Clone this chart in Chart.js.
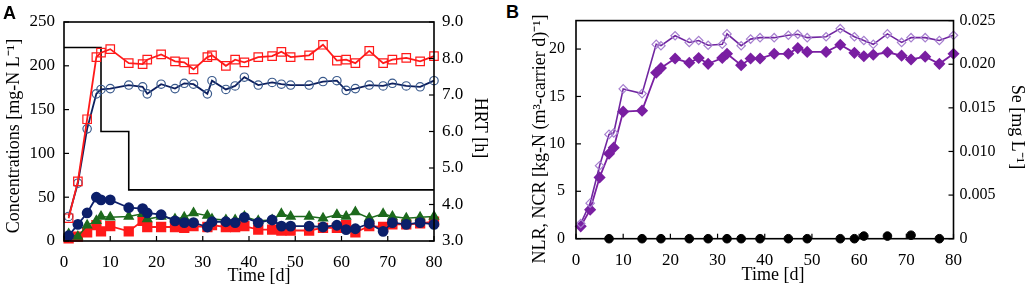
<!DOCTYPE html>
<html>
<head>
<meta charset="utf-8">
<script src="https://cdn.jsdelivr.net/npm/chart.js"></script>
<style>
  body { margin: 0; background: #fff; width: 1031px; height: 292px; position: relative; overflow: hidden; }
  canvas { position: absolute; top: 0; }
  #chartA { left: 0; }
  #chartB { left: 520px; }
  .tag { position: absolute; font: bold 18px "Liberation Sans", Arial, sans-serif; line-height: 1; }
</style>
</head>
<body>
<canvas id="chartA" width="500" height="292"></canvas>
<canvas id="chartB" width="511" height="292"></canvas>
<div class="tag" style="left:3px;top:4px">A</div>
<div class="tag" style="left:506px;top:3px">B</div>
<script>
// sampling days (both panels)
const days = [1, 3, 5, 7, 8, 10, 14, 17, 18, 21, 24, 26, 28, 31, 32, 35, 37, 39, 42, 45, 47, 49, 53, 56, 59, 61, 63, 66, 69, 71, 74, 77, 80];

// panel A, concentrations [mg-N/L]
const redOpen = [26, 68, 139, 210, 215, 219, 203, 202, 207, 213, 205, 204, 196, 210, 212, 200, 207, 204, 210, 211, 216, 210, 212, 224, 206, 207, 203, 217, 203, 207, 209, 205, 211];
const navyOpen = [28, 66, 128, 168, 173, 174, 178, 176, 168, 179, 174, 180, 179, 168, 183, 173, 177, 187, 178, 181, 179, 178, 178, 182, 183, 172, 174, 178, 177, 180, 177, 176, 183];
const navyFilled = [6, 19, 32, 50, 47, 47, 38, 37, 32, 30, 23, 21, 21, 16, 22, 22, 21, 27, 21, 24, 17, 17, 17, 16, 18, 13, 14, 20, 11, 21, 19, 21, 19];
const greenTri = [8, 5, 18, 23, 28, 27, 28, 31, 25, 28, 25, 27, 32, 29, 25, 24, 24, 28, 23, 24, 31, 28, 28, 26, 30, 28, 33, 26, 31, 28, 26, 27, 28];
const redFilled = [3, 5, 10, 18, 11, 17, 11, 23, 16, 16, 16, 15, 17, 16, 18, 16, 16, 17, 13, 13, 12, 12, 12, 15, 15, 18, 10, 17, 16, 19, 19, 20, 22];

// HRT steps [h] (corner points of the step line)
const hrtDays = [0, 8, 8, 14, 14, 80];
const hrtValues = [8.3, 8.3, 6.0, 6.0, 4.4, 4.4];

// panel B
const nlr = [1.6, 3.75, 7.7, 11.0, 11.15, 15.8, 15.3, 20.5, 20.35, 21.4, 20.7, 20.9, 20.4, 20.5, 21.6, 20.35, 21.05, 21.2, 21.2, 21.46, 21.56, 21.2, 21.3, 22.15, 21.3, 20.9, 20.5, 21.6, 20.7, 21.2, 21.2, 20.9, 21.46];
const ncr = [1.3, 3.06, 6.46, 8.96, 9.6, 13.4, 13.5, 17.5, 18.0, 19.0, 18.55, 19.06, 18.44, 19.06, 19.5, 18.3, 19.0, 19.0, 19.5, 19.5, 20.1, 19.7, 19.7, 20.45, 19.6, 19.24, 19.4, 19.66, 19.3, 18.9, 19.2, 18.44, 19.5];
const seDays = [7, 14, 18, 24, 28, 32, 35, 39, 45, 49, 56, 59, 61, 66, 71, 77];
const seValues = [0, 0, 0, 0, 0, 0, 0, 0, 0, 0, 0, 0, 0.0003, 0.0003, 0.0004, 0];

const pts = (xs, ys) => xs.map((x, i) => ({ x: x, y: ys[i] }));

Chart.defaults.font.family = '"Liberation Serif", "Times New Roman", serif';
Chart.defaults.color = '#000';

// box around plot + inward tick marks
const frame = {
  id: 'frame',
  afterDraw(chart) {
    const { ctx, chartArea: a } = chart;
    ctx.save();
    ctx.strokeStyle = '#000';
    ctx.lineWidth = 1.6;
    ctx.strokeRect(a.left, a.top, a.right - a.left, a.bottom - a.top);
    ctx.lineWidth = 1.2;
    Object.values(chart.scales).forEach(s => {
      s.ticks.forEach(t => {
        const p = s.getPixelForValue(t.value);
        ctx.beginPath();
        if (s.axis === 'x') { ctx.moveTo(p, a.bottom); ctx.lineTo(p, a.bottom - 5); }
        else if (s.position === 'left') { ctx.moveTo(a.left, p); ctx.lineTo(a.left + 5, p); }
        else { ctx.moveTo(a.right, p); ctx.lineTo(a.right - 5, p); }
        ctx.stroke();
      });
    });
    ctx.restore();
  }
};

// axis titles
const titles = {
  id: 'titles',
  afterDraw(chart, args, opts) {
    const ctx = chart.ctx;
    ctx.save();
    ctx.fillStyle = '#000';
    ctx.font = '18px "Liberation Serif", "Times New Roman", serif';
    ctx.textAlign = 'center';
    ctx.textBaseline = 'middle';
    (opts.items || []).forEach(it => {
      ctx.save();
      ctx.translate(it.x, it.y);
      if (it.rot) ctx.rotate(it.rot);
      ctx.fillText(it.text, 0, 0);
      ctx.restore();
    });
    ctx.restore();
  }
};

const noGrid = { display: false, drawTicks: false };

new Chart(document.getElementById('chartA'), {
  type: 'line',
  data: {
    datasets: [
      { data: pts(days, redOpen), borderColor: '#ff1a1a', borderWidth: 1.8, pointStyle: 'rect', pointRadius: 6, pointBorderColor: '#ff1a1a', pointBackgroundColor: 'rgba(255,255,255,0)', pointBorderWidth: 1.2 },
      { data: pts(days, navyOpen), borderColor: '#0c1f5e', borderWidth: 1.8, pointStyle: 'circle', pointRadius: 4.2, pointBorderColor: '#3a5a8c', pointBackgroundColor: 'rgba(255,255,255,0)', pointBorderWidth: 1.2 },
      { data: pts(days, navyFilled), borderColor: '#0c1f6a', borderWidth: 1.8, pointStyle: 'circle', pointRadius: 4.5, pointBorderColor: '#0c1f6a', pointBackgroundColor: '#0c1f6a' },
      { data: pts(days, greenTri), borderColor: '#1d6a1d', borderWidth: 1.5, pointStyle: 'triangle', pointRadius: 5, pointBorderColor: '#1d6a1d', pointBackgroundColor: '#1d6a1d' },
      { data: pts(days, redFilled), borderColor: '#ff1a1a', borderWidth: 1.8, pointStyle: 'rect', pointRadius: 6, pointBorderColor: '#ff1a1a', pointBackgroundColor: '#ff1a1a' },
      { data: pts(hrtDays, hrtValues), yAxisID: 'y1', borderColor: '#000', borderWidth: 1.6, pointRadius: 0 }
    ]
  },
  options: {
    responsive: false,
    animation: false,
    layout: { padding: { top: 22, bottom: 0, left: 0, right: 0 } },
    plugins: {
      legend: { display: false },
      tooltip: { enabled: false },
      titles: { items: [
        { text: 'Time [d]', x: 259, y: 276 },
        { text: 'Concentrations [mg-N L⁻¹]', x: 14, y: 136, rot: -Math.PI / 2 },
        { text: 'HRT [h]', x: 480, y: 128, rot: Math.PI / 2 }
      ] }
    },
    elements: { line: { tension: 0 } },
    datasets: { line: { clip: false } },
    scales: {
      x: {
        type: 'linear', min: 0, max: 80,
        ticks: { stepSize: 10, padding: 11, font: { size: 17 } },
        grid: noGrid, border: { display: false },
        afterFit(s) { s.height = 51; }
      },
      y: {
        position: 'left', min: 0, max: 250,
        ticks: { stepSize: 50, padding: 9, font: { size: 17 } },
        grid: noGrid, border: { display: false },
        afterFit(s) { s.width = 64; }
      },
      y1: {
        position: 'right', min: 3, max: 9,
        ticks: { stepSize: 1, padding: 8, font: { size: 17 }, callback: v => v.toFixed(1) },
        grid: noGrid, border: { display: false },
        afterFit(s) { s.width = 66; }
      }
    }
  },
  plugins: [frame, titles]
});

new Chart(document.getElementById('chartB'), {
  type: 'line',
  data: {
    datasets: [
      { data: pts(days, nlr), borderColor: '#7026a0', borderWidth: 1.6, pointStyle: 'rectRot', pointRadius: 4.2, pointBorderColor: '#a67fcf', pointBackgroundColor: 'rgba(255,255,255,0)', pointBorderWidth: 1.2 },
      { data: pts(days, ncr), borderColor: '#7a1fa2', borderWidth: 1.8, pointStyle: 'rectRot', pointRadius: 4.8, pointBorderColor: '#7a1fa2', pointBackgroundColor: '#7a1fa2' },
      { data: pts(seDays, seValues), yAxisID: 'y1', showLine: false, pointStyle: 'circle', pointRadius: 4.3, pointBorderColor: '#000', pointBackgroundColor: '#000' }
    ]
  },
  options: {
    responsive: false,
    animation: false,
    layout: { padding: { top: 17, bottom: 0, left: 0, right: 0 } },
    plugins: {
      legend: { display: false },
      tooltip: { enabled: false },
      titles: { items: [
        { text: 'Time [d]', x: 253, y: 275 },
        { text: 'NLR, NCR [kg-N (m³-carrier d)⁻¹]', x: 20, y: 139, rot: -Math.PI / 2 },
        { text: 'Se [mg L⁻¹]', x: 497, y: 127, rot: Math.PI / 2 }
      ] }
    },
    elements: { line: { tension: 0 } },
    datasets: { line: { clip: false } },
    scales: {
      x: {
        type: 'linear', min: 0, max: 80,
        ticks: { stepSize: 10, padding: 12, font: { size: 17 } },
        grid: noGrid, border: { display: false },
        afterFit(s) { s.height = 53.3; }
      },
      y: {
        position: 'left', min: 0, max: 23,
        ticks: { stepSize: 5, includeBounds: false, padding: 11, font: { size: 16 } },
        grid: noGrid, border: { display: false },
        afterFit(s) { s.width = 56; }
      },
      y1: {
        position: 'right', min: 0, max: 0.025,
        ticks: { stepSize: 0.005, padding: 6, font: { size: 16 }, callback: v => v === 0 ? '0' : v.toFixed(3) },
        grid: noGrid, border: { display: false },
        afterFit(s) { s.width = 77.5; }
      }
    }
  },
  plugins: [frame, titles]
});
</script>
</body>
</html>
